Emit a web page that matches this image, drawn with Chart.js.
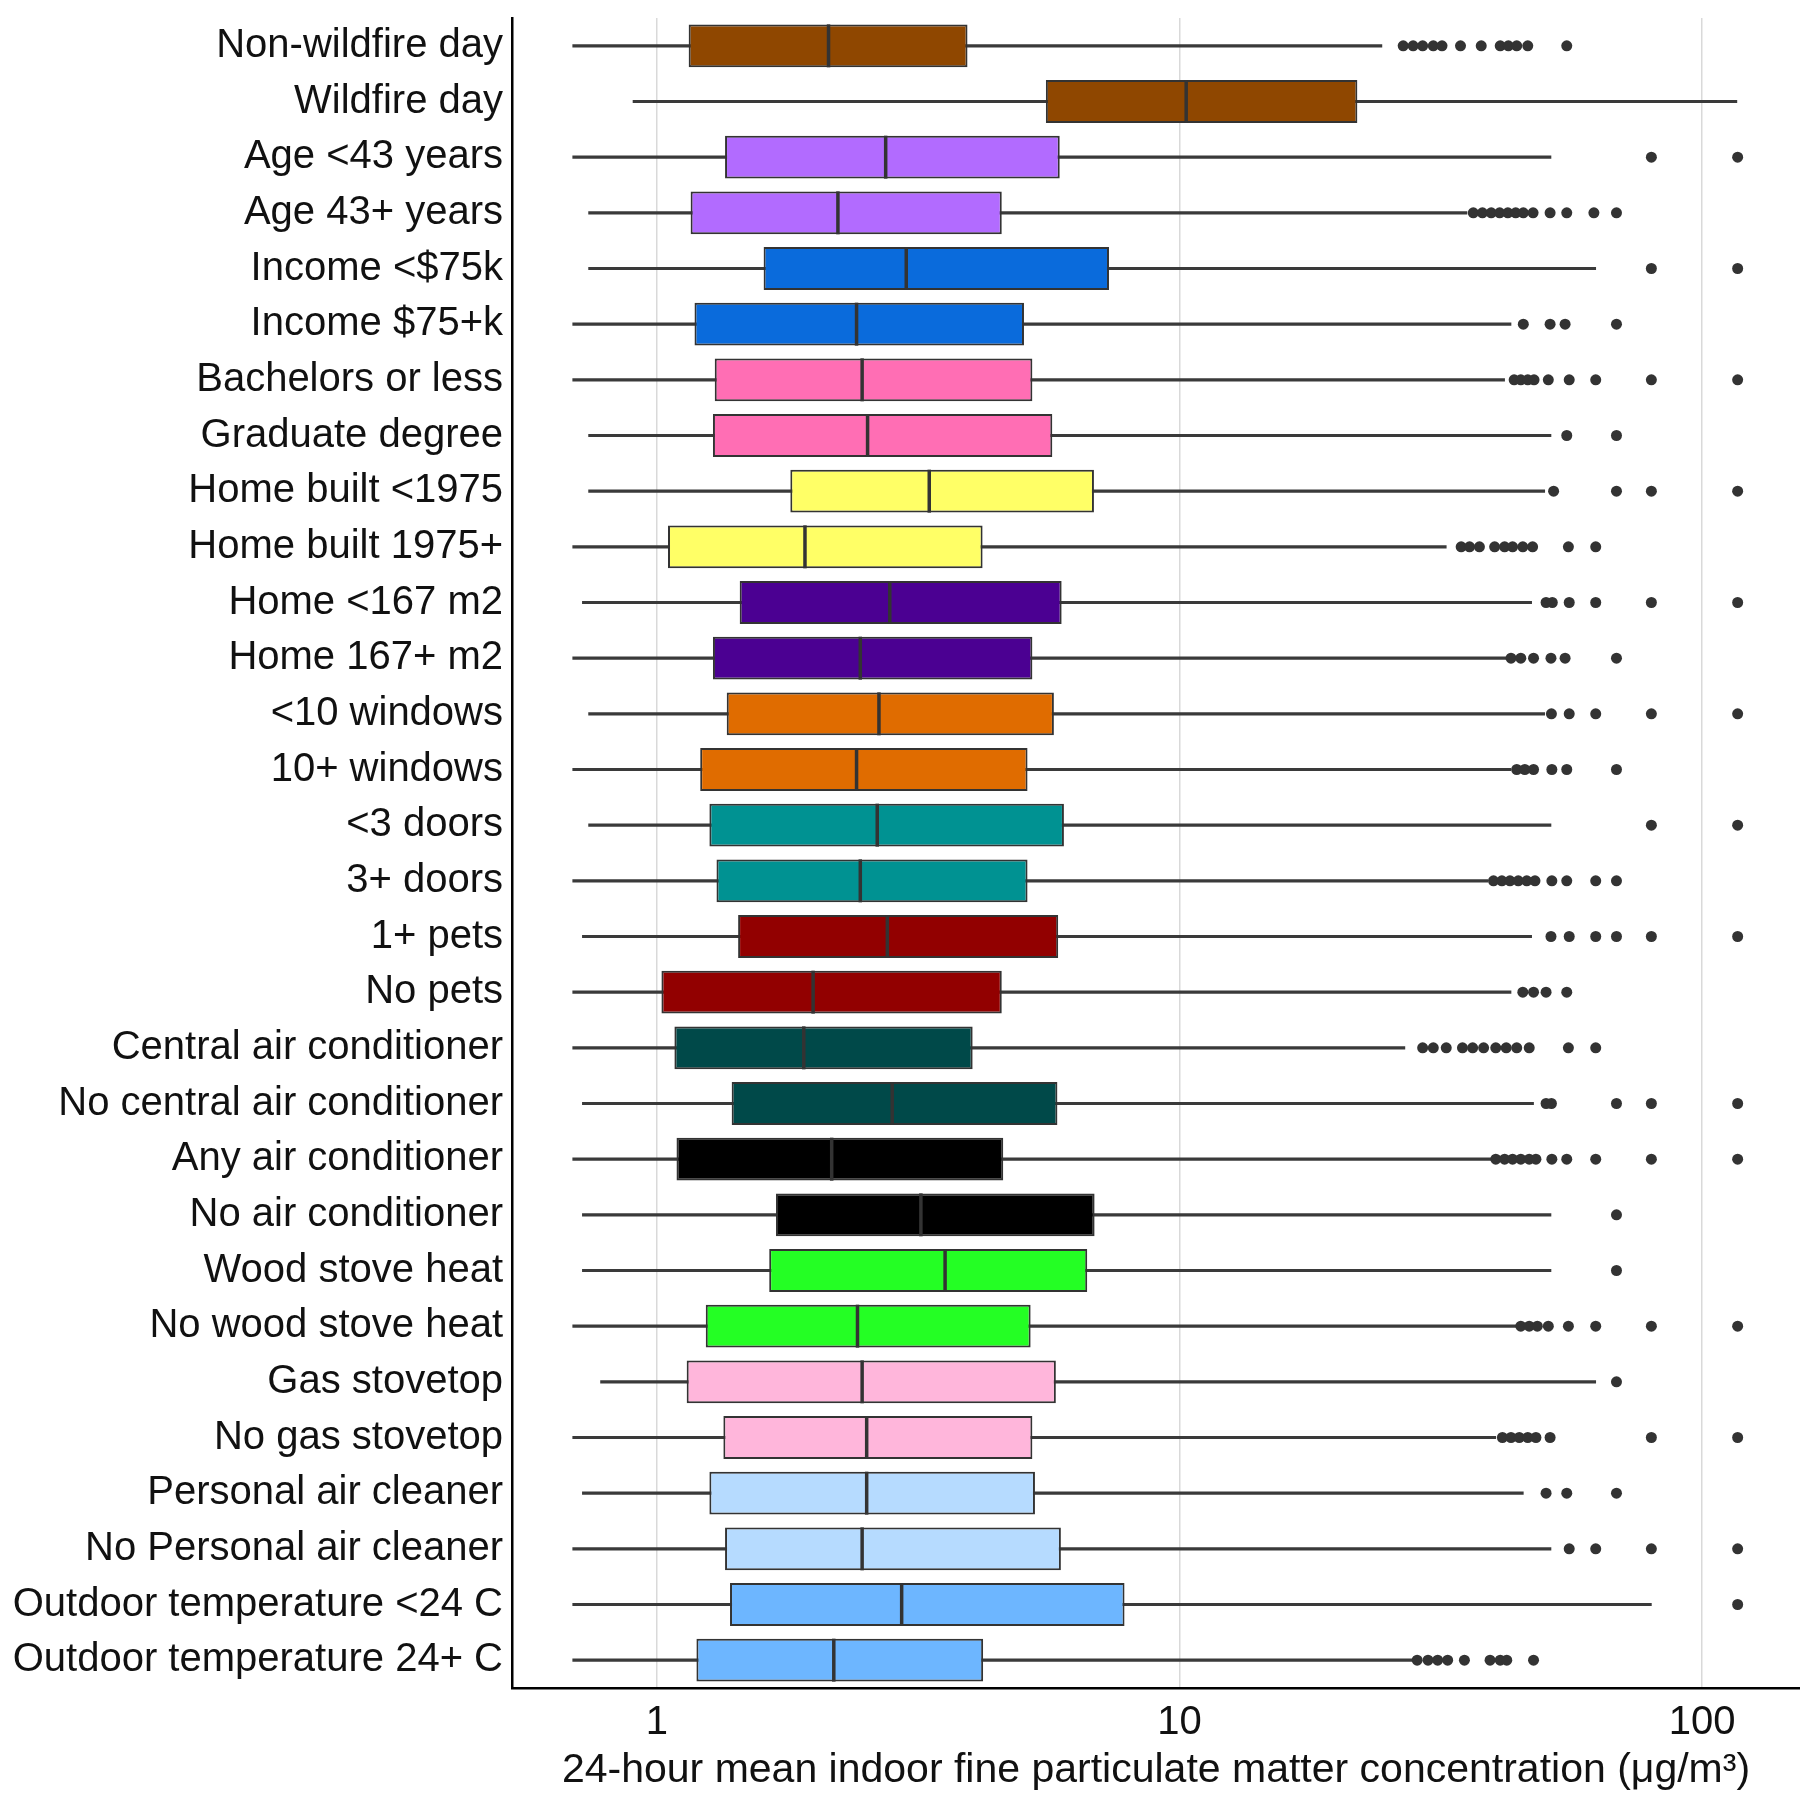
<!DOCTYPE html>
<html>
<head>
<meta charset="utf-8">
<script src="https://cdn.jsdelivr.net/npm/chart.js@4/dist/chart.umd.min.js"></script>
<style>
  html, body { margin: 0; padding: 0; background: #fff; }
  #wrap { width: 1800px; height: 1800px; }
</style>
</head>
<body>
<div id="wrap"><canvas id="pmChart" width="1800" height="1800"></canvas></div>
<script>
// --- data (ug/m3, log axis) ---
const categories = [
  'Non-wildfire day', 'Wildfire day', 'Age <43 years', 'Age 43+ years',
  'Income <$75k', 'Income $75+k', 'Bachelors or less', 'Graduate degree',
  'Home built <1975', 'Home built 1975+', 'Home <167 m2', 'Home 167+ m2',
  '<10 windows', '10+ windows', '<3 doors', '3+ doors', '1+ pets', 'No pets',
  'Central air conditioner', 'No central air conditioner', 'Any air conditioner',
  'No air conditioner', 'Wood stove heat', 'No wood stove heat', 'Gas stovetop',
  'No gas stovetop', 'Personal air cleaner', 'No Personal air cleaner',
  'Outdoor temperature <24 C', 'Outdoor temperature 24+ C'
];
const whiskerLow = [0.69, 0.90, 0.69, 0.74, 0.74, 0.69, 0.69, 0.74, 0.74, 0.69, 0.72, 0.69, 0.74, 0.69, 0.74,
                    0.69, 0.72, 0.69, 0.69, 0.72, 0.69, 0.72, 0.72, 0.69, 0.78, 0.69, 0.72, 0.69, 0.69, 0.69];
const q1 = [1.15, 5.55, 1.35, 1.16, 1.60, 1.18, 1.29, 1.28, 1.80, 1.05, 1.44, 1.28, 1.36, 1.21, 1.26,
            1.30, 1.43, 1.02, 1.08, 1.39, 1.09, 1.69, 1.64, 1.24, 1.14, 1.34, 1.26, 1.35, 1.38, 1.19];
const median = [2.13, 10.3, 2.74, 2.22, 3.00, 2.41, 2.47, 2.53, 3.32, 1.92, 2.79, 2.45, 2.66, 2.41, 2.64,
                2.45, 2.76, 1.99, 1.91, 2.82, 2.16, 3.20, 3.56, 2.42, 2.47, 2.52, 2.52, 2.47, 2.94, 2.18];
const q3 = [3.93, 21.9, 5.90, 4.57, 7.33, 5.04, 5.23, 5.71, 6.86, 4.20, 5.95, 5.23, 5.75, 5.12, 6.01,
            5.12, 5.86, 4.57, 4.02, 5.84, 4.60, 6.88, 6.66, 5.19, 5.80, 5.23, 5.29, 5.93, 7.85, 4.21];
const whiskerHigh = [24.4, 116.6, 51.4, 35.5, 62.6, 43.1, 41.9, 51.4, 50.0, 32.4, 47.2, 42.6, 50.0, 43.1, 51.4,
                     38.9, 47.2, 43.1, 27.0, 47.6, 39.6, 51.4, 51.4, 44.7, 62.6, 40.3, 45.5, 51.4, 80.0, 28.0];
const outliers = [
  [26.8, 28.0, 29.2, 30.6, 31.8, 34.5, 37.8, 41.1, 42.6, 44.2, 46.4, 55.1],
  [],
  [80, 117],
  [36.5, 38, 39.5, 41, 42.5, 44, 45.5, 47.5, 51.2, 55.1, 62.1, 68.6],
  [80, 117],
  [45.5, 51.2, 54.7, 68.6],
  [43.7, 45.0, 46.4, 47.7, 50.8, 55.7, 62.6, 80, 117],
  [55.1, 68.6],
  [52, 68.6, 80, 117],
  [34.6, 35.9, 37.5, 40.1, 41.9, 43.4, 45.4, 47.4, 55.5, 62.6],
  [50.3, 51.7, 55.7, 62.6, 80, 117],
  [43.1, 45.0, 47.6, 51.4, 54.7, 68.6],
  [51.5, 55.7, 62.6, 80, 117],
  [44.2, 45.8, 47.6, 51.6, 55.1, 68.6],
  [80, 117],
  [39.9, 41.4, 42.9, 44.5, 46.2, 47.9, 51.6, 55.1, 62.6, 68.6],
  [51.4, 55.7, 62.6, 68.6, 80, 117],
  [45.4, 47.6, 50.3, 55.1],
  [29.2, 30.6, 32.4, 34.8, 36.4, 38.2, 40.3, 42.2, 44.2, 46.7, 55.5, 62.6],
  [50.3, 51.5, 68.6, 80, 117],
  [40.3, 41.9, 43.4, 45.0, 46.7, 48.1, 51.6, 55.1, 62.6, 80, 117],
  [68.6],
  [68.6],
  [45.0, 46.7, 48.4, 50.8, 55.5, 62.6, 80, 117],
  [68.6],
  [41.5, 43.1, 44.7, 46.4, 48.1, 51.2, 80, 117],
  [50.3, 55.1, 68.6],
  [55.7, 62.6, 80, 117],
  [117],
  [28.5, 29.9, 31.2, 32.6, 35.1, 39.3, 41.1, 42.3, 47.6]
];
const xTicks = [1, 10, 100];

// box fill colours, one per row
const boxColors = [
  '#8f4700', '#8f4700', '#b26bff', '#b26bff', '#0a6bdc', '#0a6bdc', '#ff6eb4', '#ff6eb4',
  '#ffff66', '#ffff66', '#4b0092', '#4b0092', '#e06c00', '#e06c00', '#009292', '#009292',
  '#920000', '#920000', '#004949', '#004949', '#000000', '#000000', '#24ff24', '#24ff24',
  '#ffb6db', '#ffb6db', '#b6dbff', '#b6dbff', '#6db6ff', '#6db6ff'
];

const FONT = "'Liberation Sans', Arial, sans-serif";
const INK = '#333333';

const whiskerData = categories.map((c, i) => [whiskerLow[i], whiskerHigh[i]]);
const boxData = categories.map((c, i) => [q1[i], q3[i]]);
const medianData = categories.map((c, i) => ({ x: median[i], y: c }));
const outlierData = [];
outliers.forEach((row, i) => row.forEach(v => outlierData.push({ x: v, y: categories[i] })));

new Chart(document.getElementById('pmChart'), {
  type: 'bar',
  data: {
    labels: categories,
    datasets: [
      {
        // whiskers
        data: whiskerData,
        grouped: false,
        barThickness: 2.5,
        backgroundColor: '#3a3a3a',
        borderWidth: 0,
        order: 3
      },
      {
        // interquartile boxes
        data: boxData,
        grouped: false,
        categoryPercentage: 1,
        barPercentage: 0.77,
        backgroundColor: boxColors,
        borderColor: INK,
        borderWidth: 2,
        borderSkipped: false,
        order: 2
      },
      {
        type: 'scatter',
        data: medianData,
        pointStyle: 'line',
        rotation: 90,
        radius: 21.5,
        borderWidth: 3.5,
        borderColor: INK,
        order: 1
      },
      {
        type: 'scatter',
        data: outlierData,
        pointStyle: 'circle',
        radius: 5.5,
        borderWidth: 0,
        backgroundColor: INK,
        order: 0
      }
    ]
  },
  options: {
    indexAxis: 'y',
    responsive: false,
    animation: false,
    events: [],
    layout: { autoPadding: false, padding: { top: 18, right: 0, bottom: 0, left: 0 } },
    plugins: { legend: { display: false }, tooltip: { enabled: false } },
    scales: {
      x: {
        type: 'logarithmic',
        min: 0.528,
        max: 154,
        bounds: 'data',
        afterBuildTicks: (scale) => { scale.ticks = xTicks.map(v => ({ value: v })); },
        afterFit: (scale) => {
          scale.height = 112;
          scale.paddingLeft = 0;
          scale.paddingRight = 0;
        },
        ticks: {
          padding: 11,
          color: '#111',
          font: { family: FONT, size: 40 },
          callback: (v) => String(v)
        },
        grid: { color: '#d9d9d9', lineWidth: 1.5, drawTicks: false },
        border: { display: true, color: '#000', width: 2.5 },
        title: {
          display: true,
          text: '24-hour mean indoor fine particulate matter concentration (\u03bcg/m\u00b3)',
          color: '#111',
          font: { family: FONT, size: 41 },
          padding: { top: 0, bottom: 5 }
        }
      },
      y: {
        afterFit: (scale) => {
          scale.width = 512;
          scale.paddingTop = 0;
          scale.paddingBottom = 0;
        },
        ticks: {
          padding: 9,
          color: '#111',
          font: { family: FONT, size: 40 }
        },
        grid: { display: false, drawTicks: false },
        border: { display: true, color: '#000', width: 2.5 }
      }
    }
  }
});
</script>
</body>
</html>
